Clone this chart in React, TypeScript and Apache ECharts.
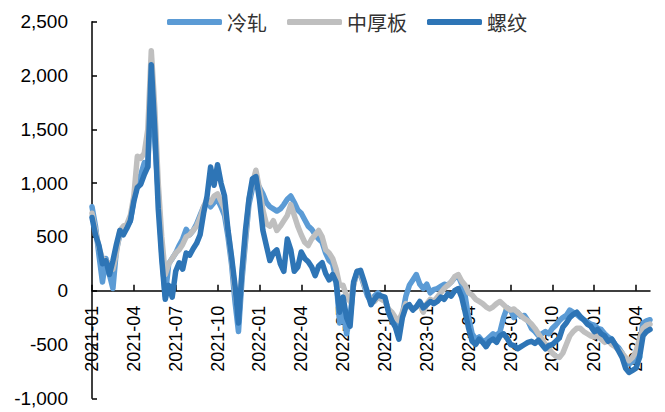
import React, { useEffect, useRef } from "react";
import * as echarts from "echarts";

// x positions in months since 2021-01 (quarter-month steps)
const monthSteps: number[] = Array.from({ length: 161 }, (_, i) => i * 0.25);
const quarterTicks: number[] = [0, 3, 6, 9, 12, 15, 18, 21, 24, 27, 30, 33, 36, 39];
const yTicks = { min: -1000, max: 2500, step: 500 };

const seriesNames = ["冷轧", "中厚板", "螺纹"];

const lengza: number[] = [
  780, 600, 330, 80, 300, 150, 20, 380, 520, 580,
  600, 650, 850, 980, 1080, 1190, 1150, 1950, 1400, 900,
  350, -50, 250, 300, 350, 420, 480, 570, 520, 560,
  620, 700, 780, 820, 780, 820, 850, 780, 700, 500,
  250, -100, -380, 100, 450, 800, 950, 1020, 960, 900,
  820, 780, 760, 740, 760, 800, 850, 880, 820, 750,
  720, 660, 600, 570, 520, 480, 450, 350, 280, 250,
  100, -300, -200, -400, -250, 60, 170, 150, 50, -50,
  -100, -50, -20, -60, -80, -180, -250, -300, -400, -220,
  -50, 50, 100, 150, 60, 20, 60, -20, 10, 20,
  40, 60, 50, 80, 120, 140, 60, -50, -250, -400,
  -450, -430, -470, -460, -430, -400, -420, -380, -250, -160,
  -180, -250, -200, -240, -230, -280, -350, -380, -420, -400,
  -380, -400, -350, -320, -280, -250, -230, -180, -200, -220,
  -250, -270, -290, -310, -320, -350, -360, -400, -430, -450,
  -500, -530, -580, -650, -680, -660, -600, -500, -300, -280,
  -270,
];

const zhonghouban: number[] = [
  720, 560, 400, 300, 280, 250, 200, 350, 560, 600,
  620, 700, 880, 1250, 1230, 1280, 1500, 2230, 1700, 1000,
  500, 150, 250, 300, 350, 380, 430, 500, 520, 560,
  600, 680, 780, 850, 820, 880, 900, 830, 760, 560,
  300, 0, -250, 150, 500, 850, 1000, 1120, 950, 750,
  620, 600, 650, 560, 600, 650, 700, 800, 700, 600,
  520, 450, 420, 480, 520, 560, 500, 380, 350, 300,
  200, 50, 50, -50, -100, 50, 180, 170, 60, -20,
  -80, -100, -60, -80, -100, -170, -200, -250, -280, -200,
  -120, -150, -170, -150, -120, -200, -120, -80, -100, -60,
  -20, 20, 50, 80, 130, 150, 90, 50, -20, -40,
  -80, -100, -120, -150, -170, -150, -120, -100, -130, -160,
  -180, -170, -200, -230, -260, -280, -310, -350, -400, -450,
  -500, -540, -580, -610, -620, -580, -500, -420, -380, -350,
  -350, -380, -400, -420, -430, -420, -450, -480, -460, -500,
  -520, -550, -580, -620, -650, -620, -560, -450, -350, -320,
  -310,
];

const luowen: number[] = [
  680, 520, 420, 250, 280, 150, 280, 430, 560, 520,
  580, 650, 830, 960, 990, 1080, 1150, 2100, 1500, 760,
  290, -80, 50, -60, 180, 260, 200, 350, 330, 390,
  440, 520, 720, 880, 1150, 980, 1170, 1000, 880, 560,
  320, 50, -300, 180, 560, 850, 1040, 1060, 850, 560,
  420, 280, 350, 380, 250, 180, 480, 380, 180, 220,
  360, 300, 270, 220, 140, 230, 260, 160, 100, 150,
  80, -200, -60, -250, -330, 80, 180, 190, 90, -20,
  -130, -80, -40, -50, -60, -200, -280, -340, -450, -250,
  -150, -130, -180, -150, -100, -160, -130, -100, -120, -100,
  -60, -80, -30, -50, 0, 20, -60, -200, -350, -470,
  -500, -450, -480, -520, -470, -450, -480, -420, -400, -440,
  -500, -510, -540, -520, -500, -480, -470, -490, -460, -500,
  -540, -510, -500, -470, -440, -340, -300, -250, -220, -200,
  -240, -270, -310, -330, -380, -360, -400, -420, -470, -450,
  -500, -560, -620, -720, -760, -740, -720, -620, -420, -380,
  -360,
];

const colors = ["#5B9BD5", "#BFBFBF", "#2E75B6"];

const GRID_TOP = 21.7;
const GRID_BOTTOM = 13.7;
const CHART_W = 665;
const CHART_H = 412;

function monthLabel(v: number): string {
  const m = Math.round(v);
  if (Math.abs(v - m) > 1e-6 || m % 3 !== 0) return "";
  const y = 2021 + Math.floor(m / 12);
  const mm = (m % 12) + 1;
  return `${y}-${mm < 10 ? "0" + mm : mm}`;
}

export default function App() {
  const ref = useRef<HTMLDivElement>(null);
  useEffect(() => {
    if (!ref.current) return;
    const chart = echarts.init(ref.current, undefined, { renderer: "svg" });
    const values = [lengza, zhonghouban, luowen];
    const plotH = CHART_H - GRID_TOP - GRID_BOTTOM;
    // distance from the bottom of the plot to the value 0 on the y axis
    const zeroOffset = (plotH * (0 - yTicks.min)) / (yTicks.max - yTicks.min);
    chart.setOption({
      animation: false,
      textStyle: { fontFamily: "Liberation Sans, Arial, sans-serif" },
      legend: {
        data: seriesNames.map((n) => ({ name: n, icon: "roundRect" })),
        left: 162,
        top: 7,
        itemWidth: 55,
        itemHeight: 6,
        itemGap: 20,
        textStyle: {
          fontFamily: "Noto Sans CJK SC",
          fontSize: 20,
          color: "#333",
        },
      },
      grid: { left: 92, right: 15, top: GRID_TOP, bottom: GRID_BOTTOM, containLabel: false },
      xAxis: {
        type: "value",
        min: 0,
        max: 40,
        interval: 3,
        position: "bottom",
        offset: -zeroOffset,
        splitLine: { show: false },
        axisLine: { show: true, onZero: false, lineStyle: { color: "#000", width: 1.5 } },
        axisTick: {
          show: true,
          inside: true,
          length: 6,
          customValues: quarterTicks,
          lineStyle: { color: "#000", width: 1.5 },
        },
        axisLabel: {
          rotate: 90,
          margin: 15,
          fontSize: 18,
          color: "#000",
          customValues: quarterTicks,
          formatter: (v: number) => monthLabel(v),
        },
      },
      yAxis: {
        type: "value",
        min: yTicks.min,
        max: yTicks.max,
        interval: yTicks.step,
        splitLine: { show: false },
        axisLine: { show: true, onZero: false, lineStyle: { color: "#000", width: 1.5 } },
        axisTick: { show: true, inside: true, length: 5, lineStyle: { color: "#000", width: 1.5 } },
        axisLabel: {
          margin: 24,
          fontSize: 19,
          color: "#000",
          showMinLabel: true,
          showMaxLabel: true,
          formatter: (v: number) => v.toLocaleString("en-US"),
        },
      },
      series: seriesNames.map((name, k) => ({
        name,
        type: "line",
        showSymbol: false,
        symbol: "none",
        color: colors[k],
        lineStyle: { width: 5.5, color: colors[k], cap: "round", join: "round" },
        data: monthSteps.map((m, i) => [m, values[k][i]]),
        z: 2 + k,
      })),
    });
    return () => chart.dispose();
  }, []);
  return (
    <div
      ref={ref}
      style={{ position: "fixed", left: 0, top: 0, width: CHART_W, height: CHART_H, background: "#fff" }}
    />
  );
}
